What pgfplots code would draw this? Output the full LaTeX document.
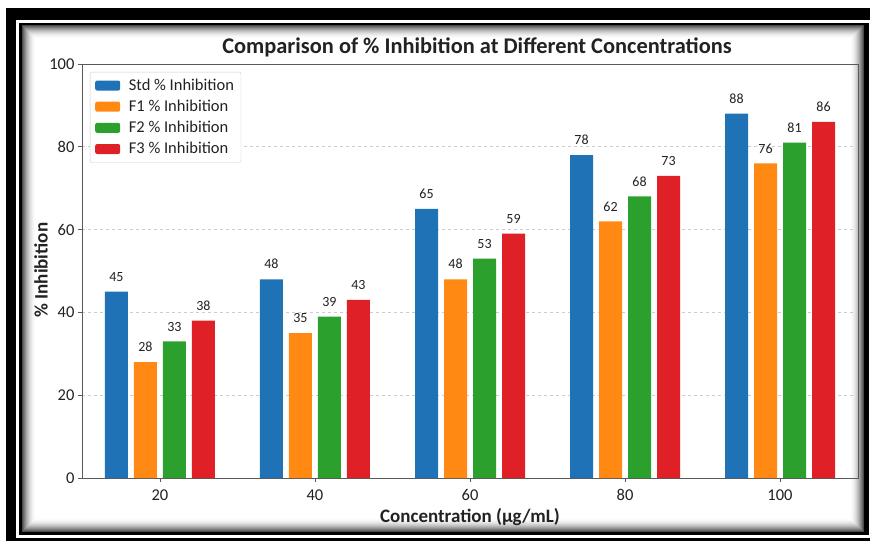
\documentclass[border=0pt]{standalone}
\usepackage{fontspec}
\setmainfont{Carlito}
\usepackage{pgfplots}
\pgfplotsset{compat=1.18}

\definecolor{cStd}{HTML}{1F72B6}
\definecolor{cFone}{HTML}{FF8912}
\definecolor{cFtwo}{HTML}{2CA02C}
\definecolor{cFthree}{HTML}{DF2027}
\definecolor{txt}{HTML}{222222}

\begin{document}
\begin{tikzpicture}
\useasboundingbox (0,0) rectangle (870pt,541pt);
% double black frame around the panel
\fill[white] (0,0) rectangle (870pt,541pt);
\fill[black] (6pt,0pt) rectangle (870pt,533pt);
\fill[white] (16pt,3pt) rectangle (870pt,521pt);
\fill[black] (19pt,6pt) rectangle (869pt,518pt);
\fill[white] (22pt,9pt) rectangle (864pt,516pt);
% inner shadow of the panel
\foreach \i in {0,...,13} {
  \pgfmathsetmacro\op{0.7*(1-\i/14)^2}
  \draw[black, draw opacity=\op, line width=1pt]
    ({(22.5+\i)*1pt},{(9.5+\i)*1pt}) rectangle ({(863.5-\i)*1pt},{(515.5-\i)*1pt});
}

\begin{axis}[
  at={(82pt,63pt)}, anchor=south west,
  scale only axis, width=776pt, height=414pt,
  ybar=6pt, bar width=23pt,
  xmin=-0.503, xmax=4.503, ymin=0, ymax=100,
  xtick={0,1,2,3,4}, xticklabels={20,40,60,80,100},
  ytick={0,20,40,60,80,100},
  xtick pos=left, ytick pos=left,
  ymajorgrids,
  grid style={dashed, black!20, line width=0.6pt},
  axis line style={black!65, line width=0.8pt},
  tick style={black!65, line width=0.8pt},
  major tick length=4pt, tick align=outside,
  /pgf/number format/assume math mode=true,
  tick label style={font=\fontsize{16.5}{19}\selectfont, text=txt},
  xticklabel style={yshift=-4pt},
  title={Comparison of \% Inhibition at Different Concentrations},
  title style={font=\bfseries\fontsize{22.4}{26}\selectfont, text=txt,
    at={(axis description cs:0.509,1.012)}, anchor=base},
  xlabel={Concentration (µg/mL)},
  ylabel={\% Inhibition},
  every axis x label/.style={at={(axis description cs:0.5,-0.094)}, anchor=center,
    font=\bfseries\fontsize{19}{22}\selectfont, text=txt},
  every axis y label/.style={at={(axis description cs:-0.0528,0.502)}, rotate=90, anchor=center,
    font=\bfseries\fontsize{19}{22}\selectfont, text=txt},
  nodes near coords,
  every node near coord/.append style={font=\fontsize{14}{16}\selectfont, text=txt,
    inner sep=0pt, anchor=south, yshift=10pt},
  legend cell align=left,
  legend style={at={(axis description cs:0.0103,0.981)}, anchor=north west,
    draw=black!20, fill=white, rounded corners=2pt,
    font=\fontsize{16.5}{19}\selectfont, text=txt,
    inner xsep=5pt, inner ysep=5pt, row sep=4.2pt,
    /tikz/every odd column/.append style={column sep=6.7pt}},
  legend image code/.code={\fill[#1] (0pt,-5pt) rectangle (25pt,5pt);},
]
\addplot[fill=cStd, draw=none] coordinates {(0,45) (1,48) (2,65) (3,78) (4,88)};
\addplot[fill=cFone, draw=none] coordinates {(0,28) (1,35) (2,48) (3,62) (4,76)};
\addplot[fill=cFtwo, draw=none] coordinates {(0,33) (1,39) (2,53) (3,68) (4,81)};
\addplot[fill=cFthree, draw=none] coordinates {(0,38) (1,43) (2,59) (3,73) (4,86)};
\legend{Std \% Inhibition, F1 \% Inhibition, F2 \% Inhibition, F3 \% Inhibition}
\end{axis}
\end{tikzpicture}
\end{document}
